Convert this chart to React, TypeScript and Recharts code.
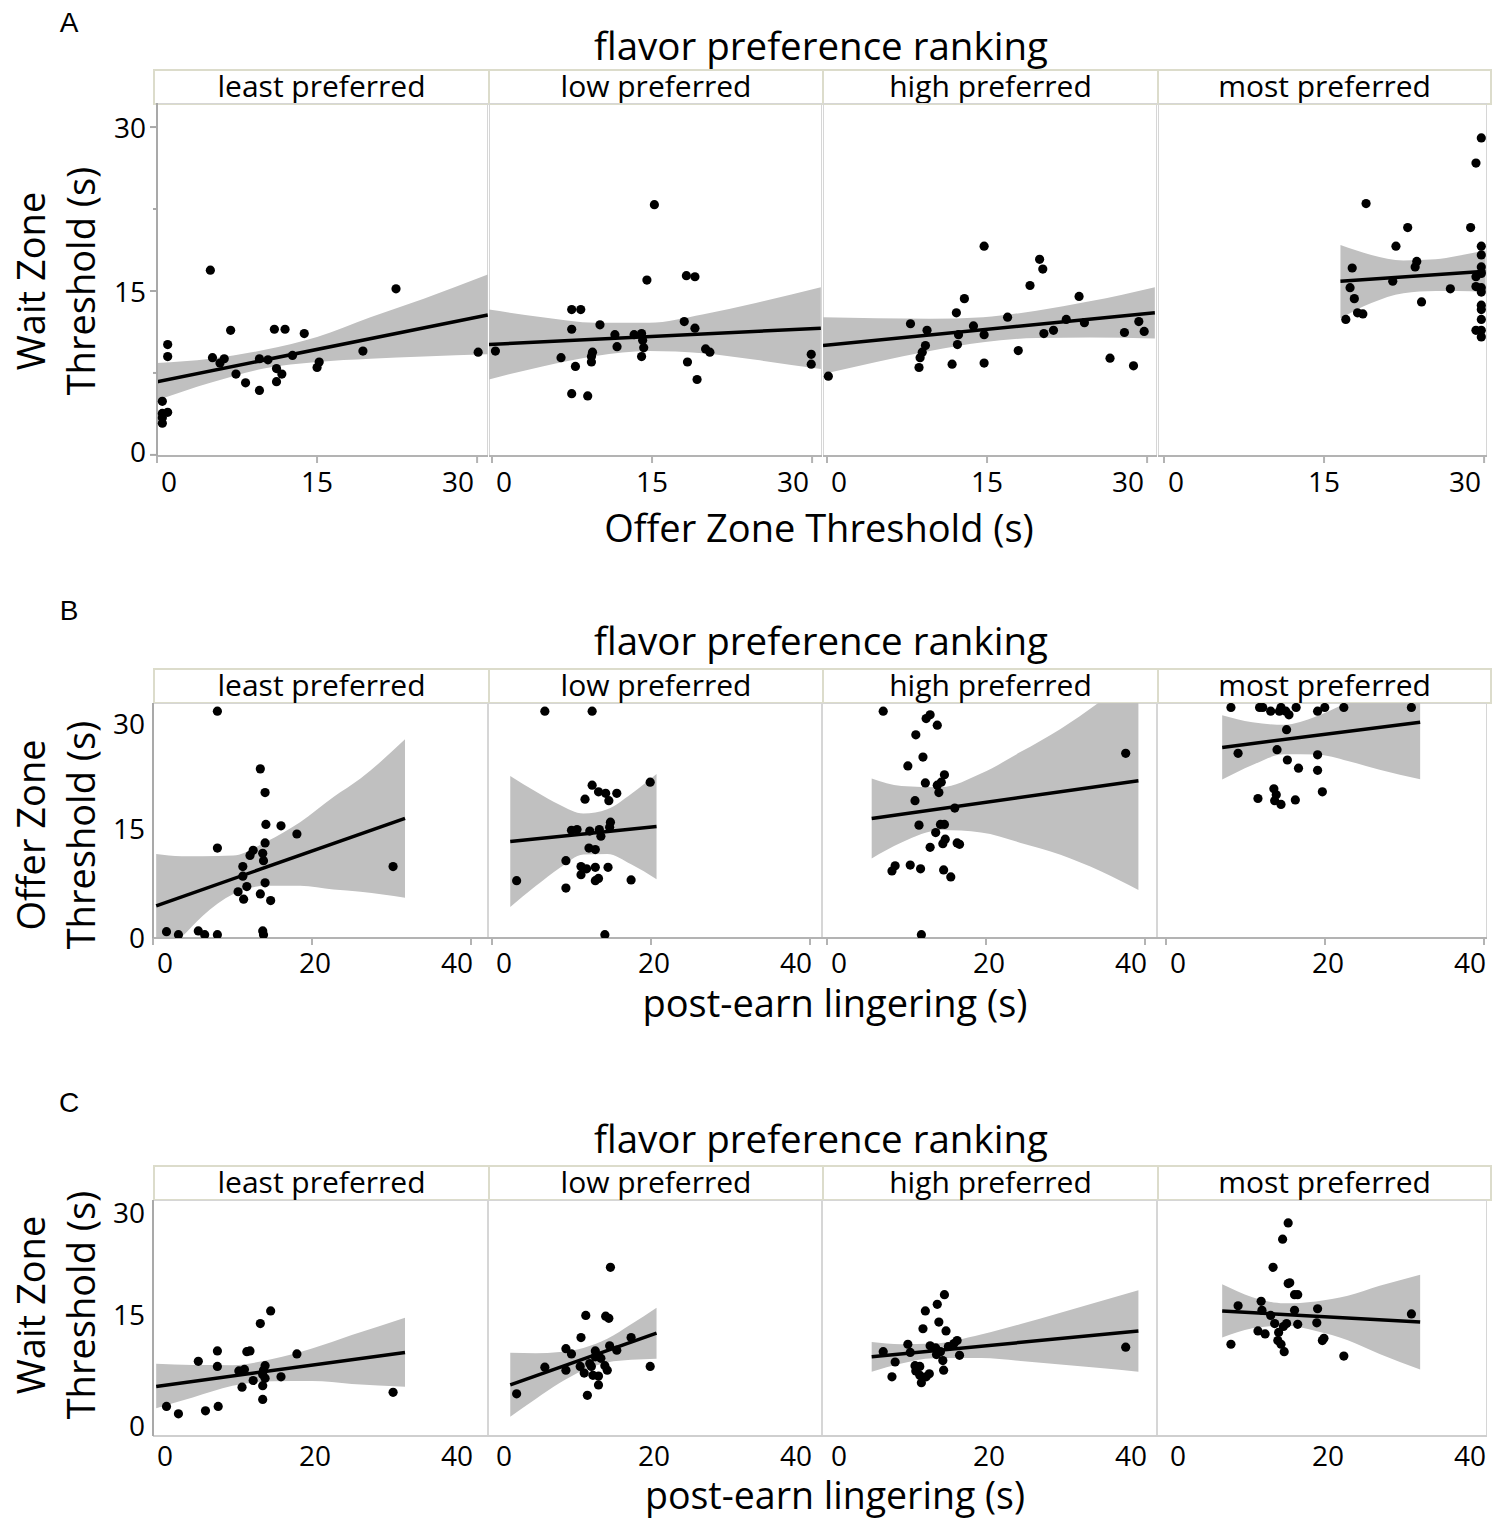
import { ComposedChart, Area, Line, Scatter, XAxis, YAxis } from 'recharts';

const FONT = '"Open Sans", "Noto Sans", sans-serif';

type Pt = [number, number];
type Band = [number, number, number];

const rankings = ['least preferred', 'low preferred', 'high preferred', 'most preferred'];
const offerTicks = [0, 15, 30];
const lingerTicks = [0, 20, 40];
const thresholdTicks = [0, 15, 30];
const thresholdMinorTicks = [7.5, 22.5];

// A: wait zone threshold vs offer zone threshold
const ptsA1: Pt[] = [
  [0.5, 4.9], [0.5, 3.8], [0.5, 3.4], [0.5, 2.9], [1.0, 3.9], [1.0, 10.1], [1.0, 9.0], [5.0, 16.9],
  [5.2, 8.9], [5.9, 8.4], [6.3, 8.8], [6.9, 11.4], [7.4, 7.4], [8.3, 6.6], [9.6, 8.8], [9.6, 5.9],
  [10.4, 8.7], [11.0, 11.5], [12.0, 11.5], [11.2, 7.9], [11.7, 7.4], [11.2, 6.7], [12.7, 9.1],
  [13.8, 11.1], [15.2, 8.5], [15.0, 8.0], [19.3, 9.5], [22.4, 15.2], [30.1, 9.4],
];
const ptsA2: Pt[] = [
  [0.6, 9.5], [6.75, 8.9], [7.75, 13.3], [8.6, 13.3], [7.75, 11.5], [8.1, 8.1], [7.75, 5.6], [9.25, 5.4],
  [9.6, 8.5], [9.7, 9.4], [9.6, 9.0], [10.4, 11.9], [11.8, 11.0], [12.0, 9.9], [13.6, 11.0], [14.3, 11.1],
  [14.4, 10.5], [14.5, 9.8], [14.3, 9.0], [14.8, 16.0], [15.5, 22.9], [18.3, 12.2], [18.5, 16.4],
  [19.3, 16.3], [19.3, 11.6], [18.6, 8.5], [20.3, 9.7], [20.7, 9.4], [19.5, 6.9], [30.2, 9.2], [30.2, 8.3],
];
const ptsA3: Pt[] = [
  [0.5, 7.2], [8.2, 12.0], [9.75, 11.4], [9.6, 10.0], [9.3, 9.4], [9.1, 8.9], [9.0, 8.0], [12.5, 13.0],
  [13.25, 14.3], [12.7, 11.0], [12.6, 10.1], [12.1, 8.3], [14.1, 11.8], [15.1, 19.1], [15.1, 11.0],
  [15.1, 8.4], [17.3, 12.6], [18.3, 9.55], [19.4, 15.5], [20.3, 17.9], [20.6, 17.0], [20.7, 11.1],
  [21.6, 11.4], [22.8, 12.4], [24.0, 14.5], [24.5, 12.1], [26.9, 8.85], [28.25, 11.2], [29.1, 8.15],
  [29.6, 12.2], [30.1, 11.3],
];
const ptsA4: Pt[] = [
  [30.3, 29.0], [29.8, 26.7], [19.5, 23.0], [23.4, 20.8], [29.3, 20.8], [22.3, 19.1], [30.3, 19.1],
  [30.3, 18.3], [30.3, 17.2], [30.3, 16.6], [29.8, 16.3], [30.3, 15.3], [29.8, 15.4], [30.3, 14.9],
  [30.3, 13.7], [30.3, 13.3], [30.3, 12.4], [29.8, 11.4], [30.3, 11.4], [30.3, 10.8], [24.25, 17.7],
  [24.1, 17.2], [22.0, 15.9], [27.4, 15.2], [24.7, 14.0], [18.2, 17.1], [18.0, 15.3], [18.4, 14.3],
  [18.7, 13.0], [19.2, 12.9], [17.6, 12.4],
];
const fitA1: Pt[] = [[0, 6.7], [31, 12.8]];
const fitA2: Pt[] = [[0, 10.1], [31.1, 11.6]];
const fitA3: Pt[] = [[0, 10.0], [31.1, 13.0]];
const fitA4: Pt[] = [[17.1, 15.9], [30.7, 16.8]];
const bandA1: Band[] = [[0, 5.0, 8.4], [5, 6.6, 8.8], [10, 7.9, 9.6], [15, 8.5, 10.8], [20, 8.8, 12.6], [25, 9.0, 14.3], [31, 9.2, 16.5]];
const bandA2: Band[] = [[0, 6.9, 13.3], [5, 8.1, 12.6], [10, 9.05, 12.1], [15, 9.5, 12.1], [20, 9.3, 12.85], [25, 8.7, 13.9], [31.1, 7.85, 15.35]];
const bandA3: Band[] = [[0, 7.4, 12.6], [5, 8.5, 12.5], [10, 9.5, 12.45], [15, 10.3, 12.6], [20, 10.7, 13.2], [25, 10.75, 14.05], [31.1, 10.65, 15.35]];
const bandA4: Band[] = [[17.1, 12.5, 19.2], [20, 13.9, 18.3], [23, 14.8, 17.8], [26, 15.0, 17.9], [28, 15.0, 18.2], [30.7, 14.9, 18.7]];

// B: offer zone threshold vs post-earn lingering
const ptsB1: Pt[] = [
  [8.1, 30.5], [1.7, 0.7], [3.2, 0.3], [5.7, 0.8], [6.5, 0.3], [8.1, 0.3], [13.8, 0.8], [13.9, 0.3],
  [13.5, 22.7], [14.1, 19.5], [14.2, 15.2], [16.1, 15.0], [18.1, 13.9], [8.1, 12.0], [14.1, 12.7],
  [12.6, 11.7], [12.2, 11.0], [13.8, 11.3], [13.9, 10.3], [11.3, 9.5], [11.3, 8.2], [11.8, 6.8],
  [10.7, 6.1], [14.1, 7.3], [13.5, 5.8], [11.4, 5.1], [14.8, 4.9], [30.2, 9.5],
];
const ptsB2: Pt[] = [
  [7.15, 30.5], [13.1, 30.5], [3.6, 7.6], [9.8, 10.3], [9.8, 6.6], [13.1, 20.5], [13.9, 19.6], [14.8, 19.4],
  [16.2, 19.4], [15.2, 18.4], [12.2, 18.6], [20.4, 20.9], [15.4, 15.5], [15.3, 14.8], [10.5, 14.4],
  [11.2, 14.5], [12.8, 14.3], [14.0, 14.5], [14.2, 13.6], [12.7, 12.0], [13.5, 11.8], [11.7, 9.5],
  [12.4, 9.2], [13.5, 9.4], [15.1, 9.4], [11.7, 8.4], [13.9, 7.9], [13.5, 7.6], [18.0, 7.7], [14.7, 0.3],
];
const ptsB3: Pt[] = [
  [7.7, 30.5], [13.1, 29.5], [13.6, 30.0], [14.5, 28.6], [11.8, 27.3], [12.7, 24.3], [10.8, 23.1],
  [15.4, 21.9], [15.0, 20.9], [14.5, 20.5], [13.0, 20.8], [14.7, 19.5], [11.7, 18.4], [16.7, 17.4],
  [12.2, 15.1], [14.9, 15.2], [15.4, 15.2], [14.3, 14.1], [15.5, 13.2], [15.2, 12.6], [17.0, 12.7],
  [17.3, 12.5], [13.6, 12.1], [9.2, 9.6], [8.8, 8.9], [11.1, 9.7], [12.4, 9.2], [15.3, 9.05], [16.2, 8.1],
  [12.5, 0.3], [38.2, 24.8],
];
const ptsB4: Pt[] = [
  [9.3, 31.0], [12.9, 31.0], [13.3, 31.0], [14.3, 30.5], [15.4, 30.5], [15.6, 31.0], [16.2, 30.5],
  [16.6, 30.0], [17.5, 31.0], [20.2, 30.5], [21.1, 31.0], [23.5, 31.0], [32.0, 31.0], [16.3, 28.0],
  [10.2, 24.8], [15.1, 25.3], [20.2, 24.6], [16.4, 23.9], [17.8, 22.8], [20.2, 22.5], [20.8, 19.6],
  [14.7, 20.0], [15.0, 19.2], [12.7, 18.7], [14.8, 18.4], [15.6, 17.9], [17.4, 18.5],
];
const fitB1: Pt[] = [[0.4, 4.2], [31.7, 16.0]];
const fitB2: Pt[] = [[2.8, 12.9], [21.2, 14.9]];
const fitB3: Pt[] = [[6.25, 16.0], [39.8, 21.1]];
const fitB4: Pt[] = [[8.2, 25.6], [33.1, 29.0]];
const bandB1: Band[] = [[0.4, -2.8, 11.2], [3.6, 0.0, 10.9], [6.2, 2.8, 10.9], [10.1, 5.8, 11.0], [14.3, 6.9, 12.9], [18.5, 6.9, 15.5], [22.7, 6.4, 18.9], [26.1, 6.1, 21.4], [31.7, 5.3, 26.7]];
const bandB2: Band[] = [[2.8, 4.05, 21.75], [6, 6.86, 19.64], [9, 9.32, 17.84], [12, 11.14, 16.66], [15, 11.21, 17.25], [18, 9.8, 19.32], [21.2, 7.8, 22.0]];
const bandB3: Band[] = [[6.25, 10.6, 21.4], [10, 12.74, 20.4], [15, 14.43, 20.23], [20, 14.12, 22.06], [25, 12.7, 25.0], [30, 11.1, 28.1], [35, 8.9, 31.8], [39.8, 6.35, 35.85]];
const bandB4: Band[] = [[8.2, 21.25, 29.95], [12, 23.23, 29.0], [16, 24.66, 28.66], [20, 24.65, 29.77], [24, 23.78, 31.74], [28, 22.58, 34.02], [33.1, 21.3, 36.7]];

// C: wait zone threshold vs post-earn lingering
const ptsC1: Pt[] = [
  [1.7, 3.8], [3.2, 2.8], [6.6, 3.2], [8.2, 3.8], [5.7, 9.9], [8.1, 11.3], [8.1, 9.2], [11.8, 11.2],
  [12.2, 11.3], [13.5, 15.0], [14.8, 16.7], [18.1, 10.9], [10.8, 8.6], [11.5, 8.8], [14.1, 9.3],
  [13.9, 8.7], [13.8, 8.1], [14.1, 7.6], [12.6, 7.3], [11.2, 6.4], [13.8, 6.6], [16.1, 7.8], [13.8, 4.75],
  [30.2, 5.7],
];
const ptsC2: Pt[] = [
  [3.6, 5.5], [7.15, 9.1], [9.8, 8.7], [9.8, 11.6], [10.5, 10.9], [11.7, 13.1], [12.3, 16.1], [14.8, 16.0],
  [15.2, 15.7], [15.4, 22.6], [18.0, 13.1], [20.4, 9.2], [12.5, 5.3], [13.9, 6.7], [13.9, 7.9], [13.2, 8.0],
  [12.1, 8.3], [11.6, 9.2], [12.8, 9.6], [13.0, 9.2], [15.0, 8.7], [14.7, 9.3], [13.5, 11.3], [13.9, 10.6],
  [14.2, 10.3], [15.3, 12.0], [16.2, 11.4], [13.5, 10.5],
];
const ptsC3: Pt[] = [
  [7.7, 11.2], [9.2, 9.8], [8.8, 7.8], [10.8, 12.2], [11.1, 11.1], [13.0, 16.7], [12.7, 14.3], [14.5, 17.6],
  [15.4, 18.9], [14.7, 15.2], [15.6, 14.0], [13.6, 12.0], [14.3, 11.7], [14.9, 11.2], [14.4, 10.8],
  [15.2, 10.0], [15.3, 8.7], [15.9, 11.9], [16.6, 12.3], [17.0, 12.7], [17.3, 10.7], [11.7, 9.3],
  [12.3, 9.2], [11.8, 8.6], [12.3, 8.0], [13.5, 8.2], [13.1, 7.8], [12.5, 7.0], [38.2, 11.8],
];
const ptsC4: Pt[] = [
  [16.5, 28.6], [15.8, 26.4], [14.6, 22.6], [16.5, 20.4], [16.7, 20.5], [17.3, 18.9], [17.7, 18.9],
  [13.1, 18.0], [10.2, 17.4], [13.2, 16.8], [17.3, 16.8], [20.2, 17.0], [14.3, 16.1], [14.8, 15.0],
  [16.3, 15.0], [15.9, 14.6], [17.7, 14.9], [20.1, 15.1], [15.3, 13.8], [12.7, 14.0], [13.6, 13.6],
  [15.2, 12.7], [15.6, 12.2], [16.0, 11.2], [20.8, 12.7], [21.0, 13.0], [9.3, 12.2], [23.5, 10.6], [32.0, 16.3],
];
const fitC1: Pt[] = [[0.4, 6.5], [31.7, 11.1]];
const fitC2: Pt[] = [[2.8, 6.7], [21.2, 13.7]];
const fitC3: Pt[] = [[6.25, 10.5], [39.8, 14.0]];
const fitC4: Pt[] = [[8.2, 16.7], [33.1, 15.2]];
const bandC1: Band[] = [[0.4, 3.55, 9.55], [5, 5.0, 9.4], [10, 6.58, 9.38], [15, 7.2, 10.2], [20, 7.22, 11.62], [25, 6.84, 13.44], [31.7, 6.45, 15.8]];
const bandC2: Band[] = [[2.8, 2.4, 11.05], [6, 4.8, 11.0], [9, 6.96, 11.16], [12, 8.7, 11.7], [15, 9.74, 12.94], [18, 10.1, 14.9], [21.2, 10.25, 17.15]];
const bandC3: Band[] = [[6.25, 8.5, 12.5], [10, 9.6, 12.2], [14, 10.3, 12.3], [20, 10.33, 13.53], [25, 9.95, 14.95], [30, 9.47, 16.47], [35, 9.0, 18.0], [39.8, 8.5, 19.5]];
const bandC4: Band[] = [[8.2, 13.1, 20.3], [12, 14.37, 18.57], [16, 14.73, 17.73], [20, 13.99, 17.99], [24, 12.75, 18.75], [28, 10.9, 20.1], [33.1, 8.8, 21.6]];

interface RowDef {
  letter: string;
  letterTop: number;
  titleY: number;
  stripTop: number;
  plotTop: number;
  plotH: number;
  panels: [number, number][];
  tickShift: number[];
  xPerUnit: number;
  xTicks: number[];
  yDomain: [number, number];
  yLabel: [string, string];
  yLabelY: number;
  xTitle: string;
  xTitleX: number;
  xTitleY: number;
  xTitleSize: number;
  xMarks: boolean;
  yMarks: boolean;
  xLabelDy: number;
  xLastDx: number;
  xMidDx: number;
  yLabelDx: number;
  yShift: Record<number, number>;
  xAxisColor: string;
  pts: Pt[][];
  fits: Pt[][];
  bands: Band[][];
}

const rows: RowDef[] = [
  {
    letter: 'A', letterTop: 23, titleY: 45, stripTop: 69, plotTop: 103, plotH: 353,
    panels: [[157, 331], [489, 333], [823, 334], [1158, 329]], tickShift: [0, 3, 4, 6], xPerUnit: 10.67, xTicks: offerTicks,
    yDomain: [-0.1, 32.2], yLabel: ['Wait Zone', 'Threshold (s)'], yLabelY: 281,
    xTitle: 'Offer Zone Threshold (s)', xTitleX: 819, xTitleY: 527, xTitleSize: 38,
    xMarks: true, yMarks: true, xLabelDy: 25, xLastDx: -3, xMidDx: 0, yLabelDx: -11, yShift: { 0: -4 },
    xAxisColor: '#b3b3b3',
    pts: [ptsA1, ptsA2, ptsA3, ptsA4], fits: [fitA1, fitA2, fitA3, fitA4], bands: [bandA1, bandA2, bandA3, bandA4],
  },
  {
    letter: 'B', letterTop: 611, titleY: 640, stripTop: 668, plotTop: 703, plotH: 235,
    panels: [[153, 335], [488, 334], [822, 335], [1157, 330]], tickShift: [0, 4, 5, 9], xPerUnit: 7.95, xTicks: lingerTicks,
    yDomain: [-0.15, 31.6], yLabel: ['Offer Zone', 'Threshold (s)'], yLabelY: 835,
    xTitle: 'post-earn lingering (s)', xTitleX: 835, xTitleY: 1002, xTitleSize: 38,
    xMarks: true, yMarks: false, xLabelDy: 24, xLastDx: 2, xMidDx: 3, yLabelDx: -8, yShift: { 15: 2, 30: 8 },
    xAxisColor: '#b3b3b3',
    pts: [ptsB1, ptsB2, ptsB3, ptsB4], fits: [fitB1, fitB2, fitB3, fitB4], bands: [bandB1, bandB2, bandB3, bandB4],
  },
  {
    letter: 'C', letterTop: 1103, titleY: 1138, stripTop: 1165, plotTop: 1200, plotH: 236,
    panels: [[153, 335], [488, 334], [822, 335], [1157, 330]], tickShift: [0, 4, 5, 9], xPerUnit: 7.95, xTicks: lingerTicks,
    yDomain: [-0.2, 31.7], yLabel: ['Wait Zone', 'Threshold (s)'], yLabelY: 1305,
    xTitle: 'post-earn lingering (s)', xTitleX: 835, xTitleY: 1494.5, xTitleSize: 37.5,
    xMarks: false, yMarks: false, xLabelDy: 18.5, xLastDx: 2, xMidDx: 3, yLabelDx: -8, yShift: { 0: -10, 15: -10, 30: -1 },
    xAxisColor: '#cfcfcf',
    pts: [ptsC1, ptsC2, ptsC3, ptsC4], fits: [fitC1, fitC2, fitC3, fitC4], bands: [bandC1, bandC2, bandC3, bandC4],
  },
];

const Dot = (p: any) => <circle cx={p.cx} cy={p.cy} r={4.6} fill="#000" />;

const PAD_TOP = 20;
const PAD_RIGHT = 8;

function Facet({ row, i }: { row: RowDef; i: number }) {
  const [left, width] = row.panels[i];
  const showY = i === 0;
  const yw = showY ? 60 : 0;
  const xh = 50;
  const xMax = width / row.xPerUnit;
  const first = row.xTicks[0];
  const last = row.xTicks[row.xTicks.length - 1];
  const shift = row.tickShift[i];
  const bandData = row.bands[i].map(([x, lo, hi]) => ({ x, band: [lo, hi] }));
  const fitData = row.fits[i].map(([x, y]) => ({ x, fit: y }));
  const ptData = row.pts[i].map(([x, y]) => ({ x, y }));

  const xTick = (p: any) => {
    const v = p.payload.value;
    const x = p.x + shift;
    const anchor = v === first ? 'start' : v === last ? 'end' : 'middle';
    const tx = v === first ? x + 4 : v === last ? x + row.xLastDx : x + row.xMidDx;
    return (
      <g>
        {row.xMarks && <line x1={x} x2={x} y1={p.y} y2={p.y + 7} stroke="#b3b3b3" strokeWidth={2} />}
        <text x={tx} y={p.y + row.xLabelDy} textAnchor={anchor} dominantBaseline="central" fontSize={28} fontFamily={FONT} fill="#000">
          {v}
        </text>
      </g>
    );
  };
  const yTick = (p: any) => {
    const v = p.payload.value;
    const major = thresholdTicks.includes(v);
    return (
      <g>
        {row.yMarks && <line x1={p.x - (major ? 7 : 4)} x2={p.x} y1={p.y} y2={p.y} stroke="#a9a9a9" strokeWidth={2} />}
        {major && (
          <text x={p.x + row.yLabelDx} y={p.y + (row.yShift[v] ?? 0)} textAnchor="end" dominantBaseline="central" fontSize={28} fontFamily={FONT} fill="#000">
            {v}
          </text>
        )}
      </g>
    );
  };
  const yTicks = row.yMarks ? [...thresholdTicks, ...thresholdMinorTicks].sort((a, b) => a - b) : thresholdTicks;

  return (
    <div style={{ position: 'absolute', left: left - yw, top: row.plotTop - PAD_TOP }}>
      <ComposedChart
        width={width + yw + PAD_RIGHT}
        height={row.plotH + xh + PAD_TOP}
        data={bandData}
        margin={{ top: PAD_TOP, right: PAD_RIGHT, bottom: 0, left: 0 }}
      >
        <XAxis
          type="number"
          dataKey="x"
          domain={[0, xMax]}
          allowDataOverflow
          ticks={row.xTicks}
          interval={0}
          height={xh}
          tickSize={0}
          tickMargin={0}
          tickLine={false}
          axisLine={{ stroke: row.xAxisColor, strokeWidth: 2 }}
          tick={xTick}
        />
        <YAxis
          type="number"
          domain={row.yDomain}
          allowDataOverflow
          ticks={yTicks}
          interval={0}
          hide={!showY}
          width={yw}
          tickSize={0}
          tickMargin={0}
          tickLine={false}
          axisLine={{ stroke: '#a9a9a9', strokeWidth: 2 }}
          tick={yTick}
        />
        <Area dataKey="band" type="monotone" fill="#c0c0c0" fillOpacity={1} stroke="none" isAnimationActive={false} />
        <Line data={fitData} dataKey="fit" type="linear" stroke="#000" strokeWidth={3.5} dot={false} isAnimationActive={false} />
        <Scatter data={ptData} dataKey="y" shape={Dot} isAnimationActive={false} />
      </ComposedChart>
    </div>
  );
}

const center: React.CSSProperties = {
  position: 'absolute',
  transform: 'translate(-50%, -50%)',
  whiteSpace: 'nowrap',
  lineHeight: 1,
};

function Row({ row }: { row: RowDef }) {
  const stripEdges = [153, 488, 822, 1157, 1490];
  return (
    <>
      <div style={{ ...center, left: 69, top: row.letterTop, fontFamily: '"Liberation Sans", Arial, sans-serif', fontSize: 28 }}>
        {row.letter}
      </div>
      <div style={{ ...center, left: 821, top: row.titleY, fontSize: 38.5 }}>flavor preference ranking</div>
      {rankings.map((r, i) => (
        <div
          key={r}
          style={{
            position: 'absolute',
            left: stripEdges[i],
            top: row.stripTop,
            width: stripEdges[i + 1] - stripEdges[i] + 2,
            height: 36,
            border: '2px solid #dcdccb',
            boxSizing: 'border-box',
            textAlign: 'center',
            fontSize: 30,
            lineHeight: '30px',
            whiteSpace: 'nowrap',
          }}
        >
          {r}
        </div>
      ))}
      {row.panels.map(([l, w], i) => (
        <div
          key={i}
          style={{
            position: 'absolute',
            left: l,
            top: row.plotTop,
            width: w,
            height: row.plotH,
            border: '1.5px solid #d6d6d6',
            boxSizing: 'border-box',
          }}
        />
      ))}
      <div style={{ ...center, left: 30, top: row.yLabelY, fontSize: 38, transform: 'translate(-50%, -50%) rotate(-90deg)' }}>
        {row.yLabel[0]}
      </div>
      <div style={{ ...center, left: 80, top: row.yLabelY, fontSize: 38, transform: 'translate(-50%, -50%) rotate(-90deg)' }}>
        {row.yLabel[1]}
      </div>
      <div style={{ ...center, left: row.xTitleX, top: row.xTitleY, fontSize: row.xTitleSize }}>{row.xTitle}</div>
      {row.panels.map((_, i) => (
        <Facet key={i} row={row} i={i} />
      ))}
    </>
  );
}

export default function App() {
  return (
    <div
      style={{
        position: 'absolute',
        left: 0,
        top: 0,
        width: 1509,
        height: 1520,
        background: '#fff',
        fontFamily: FONT,
        color: '#000',
        overflow: 'hidden',
      }}
    >
      {rows.map((row) => (
        <Row key={row.letter} row={row} />
      ))}
    </div>
  );
}
